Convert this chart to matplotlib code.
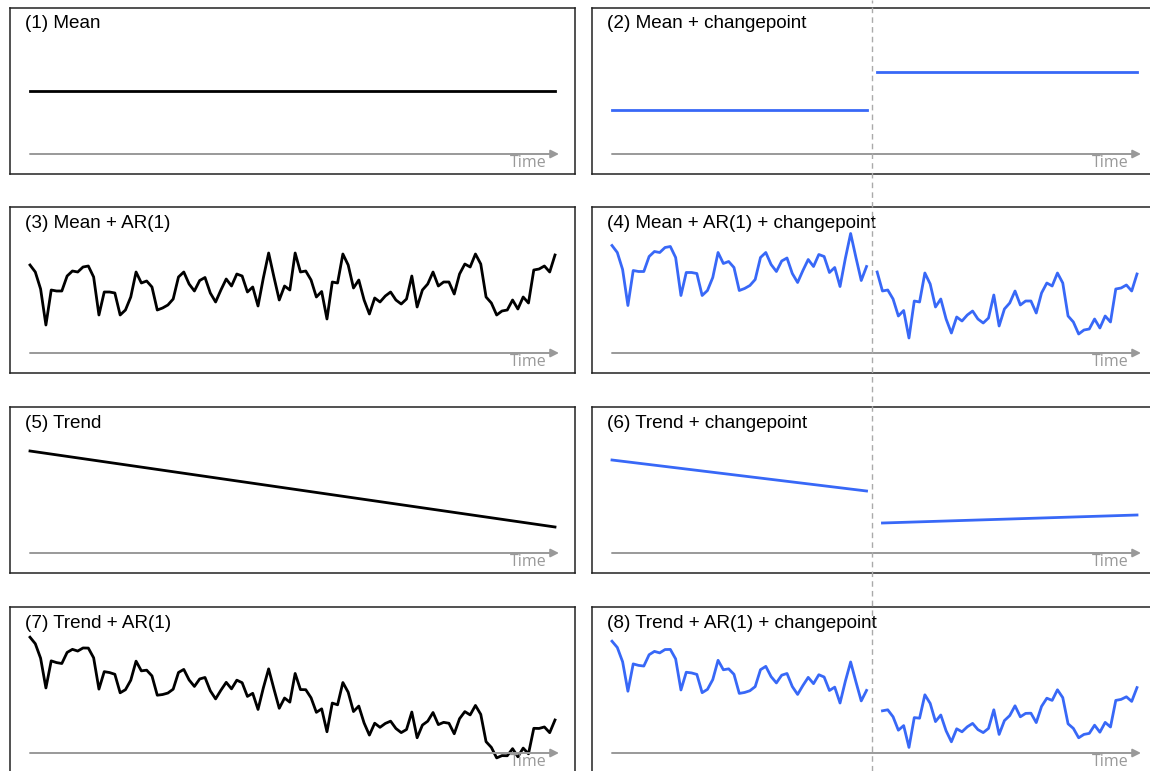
import numpy as np
import matplotlib
matplotlib.use("Agg")
import matplotlib.pyplot as plt
from matplotlib import transforms
from matplotlib.lines import Line2D

# AR(1) noise (same draw used in every noisy panel)
noise = np.array([
    2.5, 1.8, 0.1, -3.5, 0.0, -0.1, -0.1, 1.4, 1.9, 1.8,
    2.3, 2.4, 1.3, -2.5, -0.2, -0.2, -0.3, -2.5, -2.0, -0.7,
    1.8, 0.7, 0.9, 0.3, -2.0, -1.8, -1.5, -0.9, 1.3, 1.8,
    0.6, -0.1, 0.95, 1.25, -0.3, -1.2, 0.0, 1.1, 0.4, 1.6,
    1.4, -0.2, 0.3, -1.6, 1.2, 3.7, 1.3, -1.0, 0.4, 0.0,
    3.7, 1.8, 1.9, 1.0, -0.7, -0.15, -2.9, 0.8, 0.7, 3.6,
    2.5, 0.2, 1.0, -1.0, -2.4, -0.8, -1.2, -0.6, -0.2, -1.0,
    -1.4, -0.9, 1.4, -1.7, 0.0, 0.6, 1.8, 0.4, 0.8, 0.8,
    -0.4, 1.6, 2.6, 2.3, 3.6, 2.6, -0.7, -1.3, -2.5, -2.1,
    -2.0, -1.0, -1.9, -0.7, -1.3, 2.0, 2.1, 2.4, 1.8, 3.5,
])
n = len(noise)
t = np.arange(n)
cp = 49  # changepoint index

titles = ["(1) Mean", "(2) Mean + changepoint",
          "(3) Mean + AR(1)", "(4) Mean + AR(1) + changepoint",
          "(5) Trend", "(6) Trend + changepoint",
          "(7) Trend + AR(1)", "(8) Trend + AR(1) + changepoint"]

# levels / trends per panel
mean1 = 0.0
mean2 = (-1.9, 1.9)
mean4 = (1.95, -1.9)
trend5 = (3.9, -3.7)
trend6_left = (3.0, -0.1)
trend6_right = (-3.3, -2.5)
trend7 = (4.1, -7.25)
trend8_left = (3.6, -0.45)
trend8_right = (-4.4, -3.2)


def seg(a, b, idx):
    return np.linspace(a, b, len(idx))


left_idx = t[:cp]          # 0..48
right_idx = t[cp + 1:]     # 50..99
right_idx2 = t[cp + 2:]    # 51..99

black = "black"
blue = "#3868F7"
grey = "#999999"

W, H = 1150, 771
fig = plt.figure(figsize=(W / 100, H / 100), dpi=100)

col_x = [10, 592]
col_w = [565, 566]
row_top = [8, 207, 407, 607]
box_h = 166

axes = []
for r in range(4):
    for c in range(2):
        ax = fig.add_axes([col_x[c] / W, (H - row_top[r] - box_h) / H,
                           col_w[c] / W, box_h / H])
        ax.set_xlim(-20 / 5.303, 99 + (col_w[c] - 20 - 525) / 5.303)
        ax.set_xticks([])
        ax.set_yticks([])
        for s in ax.spines.values():
            s.set_color("#222222")
            s.set_linewidth(1.1)
        axes.append(ax)

lw = 2.0
# (1)
axes[0].plot(t, np.full(n, mean1), color=black, lw=lw)
# (2)
axes[1].plot(left_idx, np.full(len(left_idx), mean2[0]), color=blue, lw=lw)
axes[1].plot(right_idx, np.full(len(right_idx), mean2[1]), color=blue, lw=lw)
# (3)
axes[2].plot(t, mean1 + noise, color=black, lw=lw)
# (4)
axes[3].plot(left_idx, mean4[0] + noise[left_idx], color=blue, lw=lw)
axes[3].plot(right_idx, mean4[1] + noise[right_idx], color=blue, lw=lw)
# (5)
axes[4].plot(t, seg(*trend5, t), color=black, lw=lw)
# (6)
axes[5].plot(left_idx, seg(*trend6_left, left_idx), color=blue, lw=lw)
axes[5].plot(right_idx2, seg(*trend6_right, right_idx2), color=blue, lw=lw)
# (7)
axes[6].plot(t, seg(*trend7, t) + noise, color=black, lw=lw)
# (8)
axes[7].plot(left_idx, seg(*trend8_left, left_idx) + noise[left_idx], color=blue, lw=lw)
axes[7].plot(right_idx2, seg(*trend8_right, right_idx2) + noise[right_idx2], color=blue, lw=lw)

for i, ax in enumerate(axes):
    k = 8.0 if i >= 6 else 10.0
    half = box_h / 2 / k
    ax.set_ylim(-half, half)
    ax.text(15 / col_w[i % 2], 1 - 16 / box_h, titles[i], transform=ax.transAxes,
            ha="left", va="center", fontsize=13.6, family="Liberation Sans")
    ax.annotate("", xy=(549 / col_w[i % 2], 20 / box_h), xytext=(20 / col_w[i % 2], 20 / box_h),
                xycoords="axes fraction",
                arrowprops=dict(arrowstyle="-|>", color=grey, lw=1.4,
                                mutation_scale=12, shrinkA=0, shrinkB=0))
    ax.text(537 / col_w[i % 2], 11 / box_h, "Time", transform=ax.transAxes,
            ha="right", va="center", fontsize=11.5, color=grey, family="Open Sans")

# dashed changepoint line across the whole right column
tr = transforms.blended_transform_factory(axes[1].transData, fig.transFigure)
fig.add_artist(Line2D([cp, cp], [0, 1], transform=tr, color="#aaaaaa",
                      lw=1.0, linestyle=(0, (4, 3)), zorder=5))

fig.savefig("out.png", dpi=100)
